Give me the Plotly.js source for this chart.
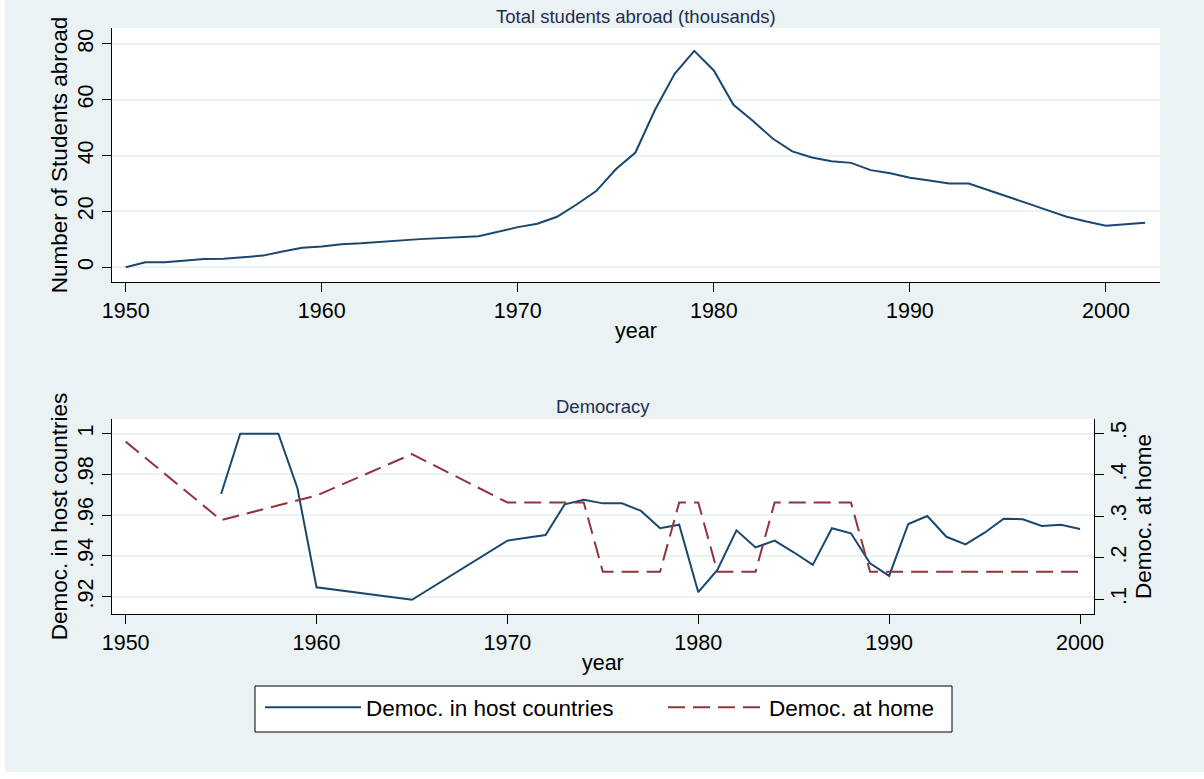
<!DOCTYPE html>
<html>
<head>
<meta charset="utf-8">
<script src="https://cdn.plot.ly/plotly-3.0.1.min.js"></script>
<style>html,body{margin:0;padding:0;background:#ffffff;}#chart{width:1204px;height:779px;}</style>
</head>
<body>
<div id="chart"></div>
<script>
// ---- Top panel: total students abroad (thousands)
var studentYears = [1950,1951,1952,1954,1955,1956,1957,1958,1959,1960,1961,1962,1965,1968,
  1970,1971,1972,1973,1974,1975,1976,1977,1978,1979,1980,1981,1982,1983,1984,1985,1986,1987,
  1988,1989,1990,1991,1992,1993,1994,1995,1996,1997,1998,1999,2000,2001,2002];
var studentsAbroad = [0,1.8,1.8,3.0,3.1,3.6,4.2,5.7,7.0,7.5,8.3,8.6,10.1,11.1,
  14.4,15.6,18.1,22.5,27.3,35.1,41.1,56.4,69.3,77.5,70.5,58.2,52.4,46.1,41.5,39.3,38.0,37.4,
  34.8,33.7,32.1,31.1,30.0,30.0,27.7,25.4,22.9,20.5,18.1,16.4,14.9,15.4,16.0];

// ---- Bottom panel: democracy
var hostYears = [1955,1956,1957,1958,1959,1960,1965,1970,1971,1972,1973,1974,1975,1976,1977,1978,
  1979,1980,1981,1982,1983,1984,1985,1986,1987,1988,1989,1990,1991,1992,1993,1994,1995,1996,
  1997,1998,1999,2000];
var democHost = [0.9704,1.0,1.0,1.0,0.9732,0.9246,0.9185,0.9475,0.9489,0.9503,0.9653,0.9676,0.9658,0.9658,
  0.9621,0.9536,0.9553,0.9222,0.9331,0.9526,0.9442,0.9475,0.9418,0.9356,0.9536,0.9511,0.9364,0.9302,
  0.9557,0.9596,0.9494,0.9457,0.9514,0.9583,0.9580,0.9547,0.9553,0.9532];

var homeYears = [1950,1955,1960,1965,1970,1971,1972,1973,1974,1975,1976,1977,1978,1979,1980,1981,
  1982,1983,1984,1985,1986,1987,1988,1989,1990,1991,1992,1993,1994,1995,1996,1997,1998,1999,2000];
var democHome = [0.48,0.291,0.35,0.45,0.3333,0.3333,0.3333,0.3333,0.3333,0.1667,0.1667,0.1667,0.1667,
  0.3333,0.3333,0.1667,0.1667,0.1667,0.3333,0.3333,0.3333,0.3333,0.3333,0.1667,0.1667,0.1667,0.1667,
  0.1667,0.1667,0.1667,0.1667,0.1667,0.1667,0.1667,0.1667];

var xTicks = [1950,1960,1970,1980,1990,2000];
var studentTicks = [0,20,40,60,80];
var hostTicks = [0.92,0.94,0.96,0.98,1];
var hostTickText = ['.92','.94','.96','.98','1'];
var homeTicks = [0.1,0.2,0.3,0.4,0.5];
var homeTickText = ['.1','.2','.3','.4','.5'];

var navy = '#1a476f', maroon = '#90353b', bg = '#eaf2f3';
var FONT = '"Liberation Sans", Arial, sans-serif';

var traces = [
  {x: studentYears, y: studentsAbroad, xaxis: 'x', yaxis: 'y', mode: 'lines',
   line: {color: navy, width: 2}, showlegend: false, name: 'Total students'},
  {x: hostYears, y: democHost, xaxis: 'x2', yaxis: 'y2', mode: 'lines', legend: 'legend',
   line: {color: navy, width: 2}, name: 'Democ. in host countries'},
  {x: homeYears, y: democHome, xaxis: 'x2', yaxis: 'y3', mode: 'lines', legend: 'legend2',
   line: {color: maroon, width: 2, dash: '17px,8px'}, name: 'Democ. at home'}
];

function xax(domain, anchor, range) {
  return {domain: domain, anchor: anchor, range: range, tickvals: xTicks, ticks: 'outside', ticklen: 9,
    tickcolor: '#000', tickwidth: 1, showline: true, linecolor: '#000', linewidth: 1, showgrid: false,
    zeroline: false, tickfont: {size: 21.5, color: '#000'},
    title: {text: 'year', font: {size: 21.5, color: '#000'}, standoff: 1}};
}

function legendBox(x) {
  return {orientation: 'h', x: x, xanchor: 'left', y: 1 - 686/779, yanchor: 'top',
    bgcolor: 'rgba(0,0,0,0)', borderwidth: 0, font: {size: 22.5, color: '#000'}, itemwidth: 96};
}

var layout = {
  width: 1204, height: 779,
  margin: {l: 0, r: 0, t: 0, b: 0},
  paper_bgcolor: bg, plot_bgcolor: '#ffffff',
  font: {family: FONT, color: '#000'},
  xaxis: xax([0.0930, 0.9635], 'y', [1949.3, 2002.76]),
  yaxis: {domain: [0.6380, 0.9641], anchor: 'x', range: [-5.25, 85.7], tickvals: studentTicks,
    tickangle: -90, ticks: 'outside', ticklen: 9, tickcolor: '#000', showline: true, linecolor: '#000',
    showgrid: true, gridcolor: bg, gridwidth: 2, zeroline: false, tickfont: {size: 21.5},
    title: {text: 'Number of Students abroad', font: {size: 22.5}, standoff: 0}},
  xaxis2: xax([0.0928, 0.9086], 'y2', [1949.27, 2000.73]),
  yaxis2: {domain: [0.2118, 0.4621], anchor: 'x2', range: [0.9115, 1.0072], tickvals: hostTicks,
    ticktext: hostTickText, tickangle: -90, ticks: 'outside', ticklen: 9, tickcolor: '#000',
    showline: true, linecolor: '#000', showgrid: true, gridcolor: bg, gridwidth: 2, zeroline: false,
    tickfont: {size: 21.5}, title: {text: 'Democ. in host countries', font: {size: 22.5}, standoff: 0}},
  yaxis3: {overlaying: 'y2', anchor: 'x2', side: 'right', range: [0.0646, 0.5345], tickvals: homeTicks,
    ticktext: homeTickText, tickangle: -90, ticks: 'outside', ticklen: 9, tickcolor: '#000',
    ticklabelstandoff: -4,
    showline: true, linecolor: '#000', showgrid: false, zeroline: false, tickfont: {size: 21.5},
    title: {text: 'Democ. at home', font: {size: 22.5}, standoff: 0}},
  legend: legendBox(260/1204),
  legend2: legendBox(663/1204),
  annotations: [
    {text: 'Total students abroad (thousands)', xref: 'paper', yref: 'paper', x: 0.5283, y: 1 - 16/779,
     xanchor: 'center', yanchor: 'middle', showarrow: false, font: {size: 18.5, color: '#1f2d52'}},
    {text: 'Democracy', xref: 'paper', yref: 'paper', x: 0.5008, y: 1 - 406/779,
     xanchor: 'center', yanchor: 'middle', showarrow: false, font: {size: 18.5, color: '#1f2d52'}}
  ],
  shapes: [
    {type: 'rect', xref: 'paper', yref: 'paper', x0: 0, x1: 5/1204, y0: 0, y1: 1, fillcolor: '#ffffff', line: {width: 0}, layer: 'below'},
    {type: 'rect', xref: 'paper', yref: 'paper', x0: 0, x1: 1, y0: 0, y1: 7/779, fillcolor: '#ffffff', line: {width: 0}, layer: 'below'},
    {type: 'rect', xref: 'paper', yref: 'paper', x0: 255/1204, x1: 952/1204, y0: 1 - 732/779, y1: 1 - 686/779,
     fillcolor: '#ffffff', line: {color: '#000', width: 1}, layer: 'below'}
  ]
};

Plotly.newPlot('chart', traces, layout, {displayModeBar: false, staticPlot: true});
</script>
</body>
</html>
